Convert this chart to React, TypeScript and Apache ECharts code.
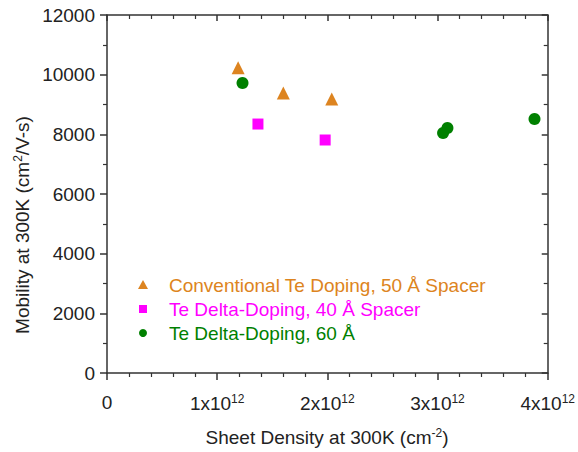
import React, { useEffect, useRef } from "react";
import * as echarts from "echarts";

const seriesNames = [
  "Conventional Te Doping, 50 Å Spacer",
  "Te Delta-Doping, 40 Å Spacer",
  "Te Delta-Doping, 60 Å",
];
const seriesColors = ["#DD8420", "#FF00FF", "#008000"];
const seriesSymbols = ["triangle", "rect", "circle"];

const conventional: [number, number][] = [
  [1.19e12, 10230],
  [1.6e12, 9385],
  [2.04e12, 9185],
];
const delta40: [number, number][] = [
  [1.37e12, 8345],
  [1.98e12, 7810],
];
const delta60: [number, number][] = [
  [1.23e12, 9720],
  [3.05e12, 8045],
  [3.09e12, 8210],
  [3.88e12, 8515],
];

const xTicks = [0, 1e12, 2e12, 3e12, 4e12];
const yTicks = [0, 2000, 4000, 6000, 8000, 10000, 12000];

const FONT = "'Liberation Sans', Arial, sans-serif";
const FS = 19;
const AX = "#333";

export default function App() {
  const ref = useRef<HTMLDivElement>(null);
  useEffect(() => {
    if (!ref.current) return;
    const chart = echarts.init(ref.current, null, { renderer: "svg" });
    const grid = { left: 107, right: 29, top: 15, bottom: 79 };
    const xBase = {
      type: "value" as const,
      min: xTicks[0],
      max: xTicks[xTicks.length - 1],
      interval: 1e12,
      splitLine: { show: false },
      axisLine: { show: true, onZero: false, lineStyle: { color: AX, width: 1.5 } },
    };
    const yBase = {
      type: "value" as const,
      min: yTicks[0],
      max: yTicks[yTicks.length - 1],
      interval: 2000,
      splitLine: { show: false },
      axisLine: { show: true, onZero: false, lineStyle: { color: AX, width: 1.5 } },
    };
    const data = [conventional, delta40, delta60];
    const sizes = [13, 11, 12];
    const legendSizes = [10, 8, 8];
    const legendTop = 285;
    const legendGap = 24;
    const graphic: any[] = [];
    seriesNames.forEach((name, i) => {
      const cy = legendTop + i * legendGap;
      const cx = 143;
      const s = legendSizes[i];
      if (seriesSymbols[i] === "triangle") {
        graphic.push({
          type: "polygon",
          shape: { points: [[cx, cy - s / 2], [cx + s / 2, cy + s / 2 - 1], [cx - s / 2, cy + s / 2 - 1]] },
          style: { fill: seriesColors[i] },
        });
      } else if (seriesSymbols[i] === "rect") {
        graphic.push({
          type: "rect",
          shape: { x: cx - s / 2, y: cy - s / 2, width: s, height: s },
          style: { fill: seriesColors[i] },
        });
      } else {
        graphic.push({
          type: "circle",
          shape: { cx, cy, r: s / 2 },
          style: { fill: seriesColors[i] },
        });
      }
      graphic.push({
        type: "text",
        x: 169,
        y: cy,
        style: {
          text: name,
          fill: seriesColors[i],
          font: `${FS}px ${FONT}`,
          verticalAlign: "middle",
          align: "left",
        },
      });
    });
    graphic.push({
      type: "text",
      x: 22,
      y: 225,
      rotation: Math.PI / 2,
      style: {
        text: "{m|Mobility at 300K (cm}{s|2}{m|/V-s)}",
        align: "center",
        verticalAlign: "middle",
        rich: {
          m: { fontSize: FS, fontFamily: FONT, fill: "#222" },
          s: { fontSize: 12, fontFamily: FONT, fill: "#222", padding: [0, 0, 9, 0] },
        },
      },
    });
    graphic.push({
      type: "text",
      x: 327,
      y: 437,
      style: {
        text: "{m|Sheet Density at 300K (cm}{s|-2}{m|)}",
        align: "center",
        verticalAlign: "middle",
        rich: {
          m: { fontSize: FS, fontFamily: FONT, fill: "#222" },
          s: { fontSize: 12, fontFamily: FONT, fill: "#222", padding: [0, 0, 9, 0] },
        },
      },
    });

    chart.setOption({
      animation: false,
      backgroundColor: "#fff",
      grid,
      xAxis: [
        {
          ...xBase,
          position: "bottom",
          axisTick: { show: true, inside: false, length: 7, lineStyle: { color: AX, width: 1.5 } },
          minorTick: { show: true, splitNumber: 5, length: 4, lineStyle: { color: AX, width: 1.2 } },
          axisLabel: {
            margin: 20,
            fontFamily: FONT,
            color: "#222",
            formatter: (v: number) => (v === 0 ? "{m|0}" : `{m|${v / 1e12}x10}{s|12}`),
            rich: {
              m: { fontSize: FS, fontFamily: FONT, color: "#222" },
              s: { fontSize: 12, fontFamily: FONT, color: "#222", padding: [0, 0, 9, 0] },
            },
          },
        },
        {
          ...xBase,
          position: "top",
          axisTick: { show: true, inside: true, length: 6, lineStyle: { color: AX, width: 1.5 } },
          minorTick: { show: true, splitNumber: 5, length: 4, lineStyle: { color: AX, width: 1.2 } },
          axisLabel: { show: false },
        },
      ],
      yAxis: [
        {
          ...yBase,
          position: "left",
          axisTick: { show: true, inside: false, length: 7, lineStyle: { color: AX, width: 1.5 } },
          minorTick: { show: true, splitNumber: 2, length: 4, lineStyle: { color: AX, width: 1.2 } },
          axisLabel: {
            margin: 12,
            fontSize: FS,
            fontFamily: FONT,
            color: "#222",
            formatter: (v: number) => String(v),
          },
        },
        {
          ...yBase,
          position: "right",
          axisTick: { show: true, inside: true, length: 6, lineStyle: { color: AX, width: 1.5 } },
          minorTick: { show: true, splitNumber: 2, length: 4, lineStyle: { color: AX, width: 1.2 } },
          axisLabel: { show: false },
        },
      ],
      graphic,
      series: seriesNames.map((name, i) => ({
        name,
        type: "scatter",
        xAxisIndex: 0,
        yAxisIndex: 0,
        symbol: seriesSymbols[i],
        symbolSize: sizes[i],
        itemStyle: { color: seriesColors[i], opacity: 1 },
        data: data[i],
      })),
    });
    return () => chart.dispose();
  }, []);
  return (
    <div
      ref={ref}
      style={{ position: "fixed", left: 0, top: 0, width: 578, height: 452 }}
    />
  );
}
